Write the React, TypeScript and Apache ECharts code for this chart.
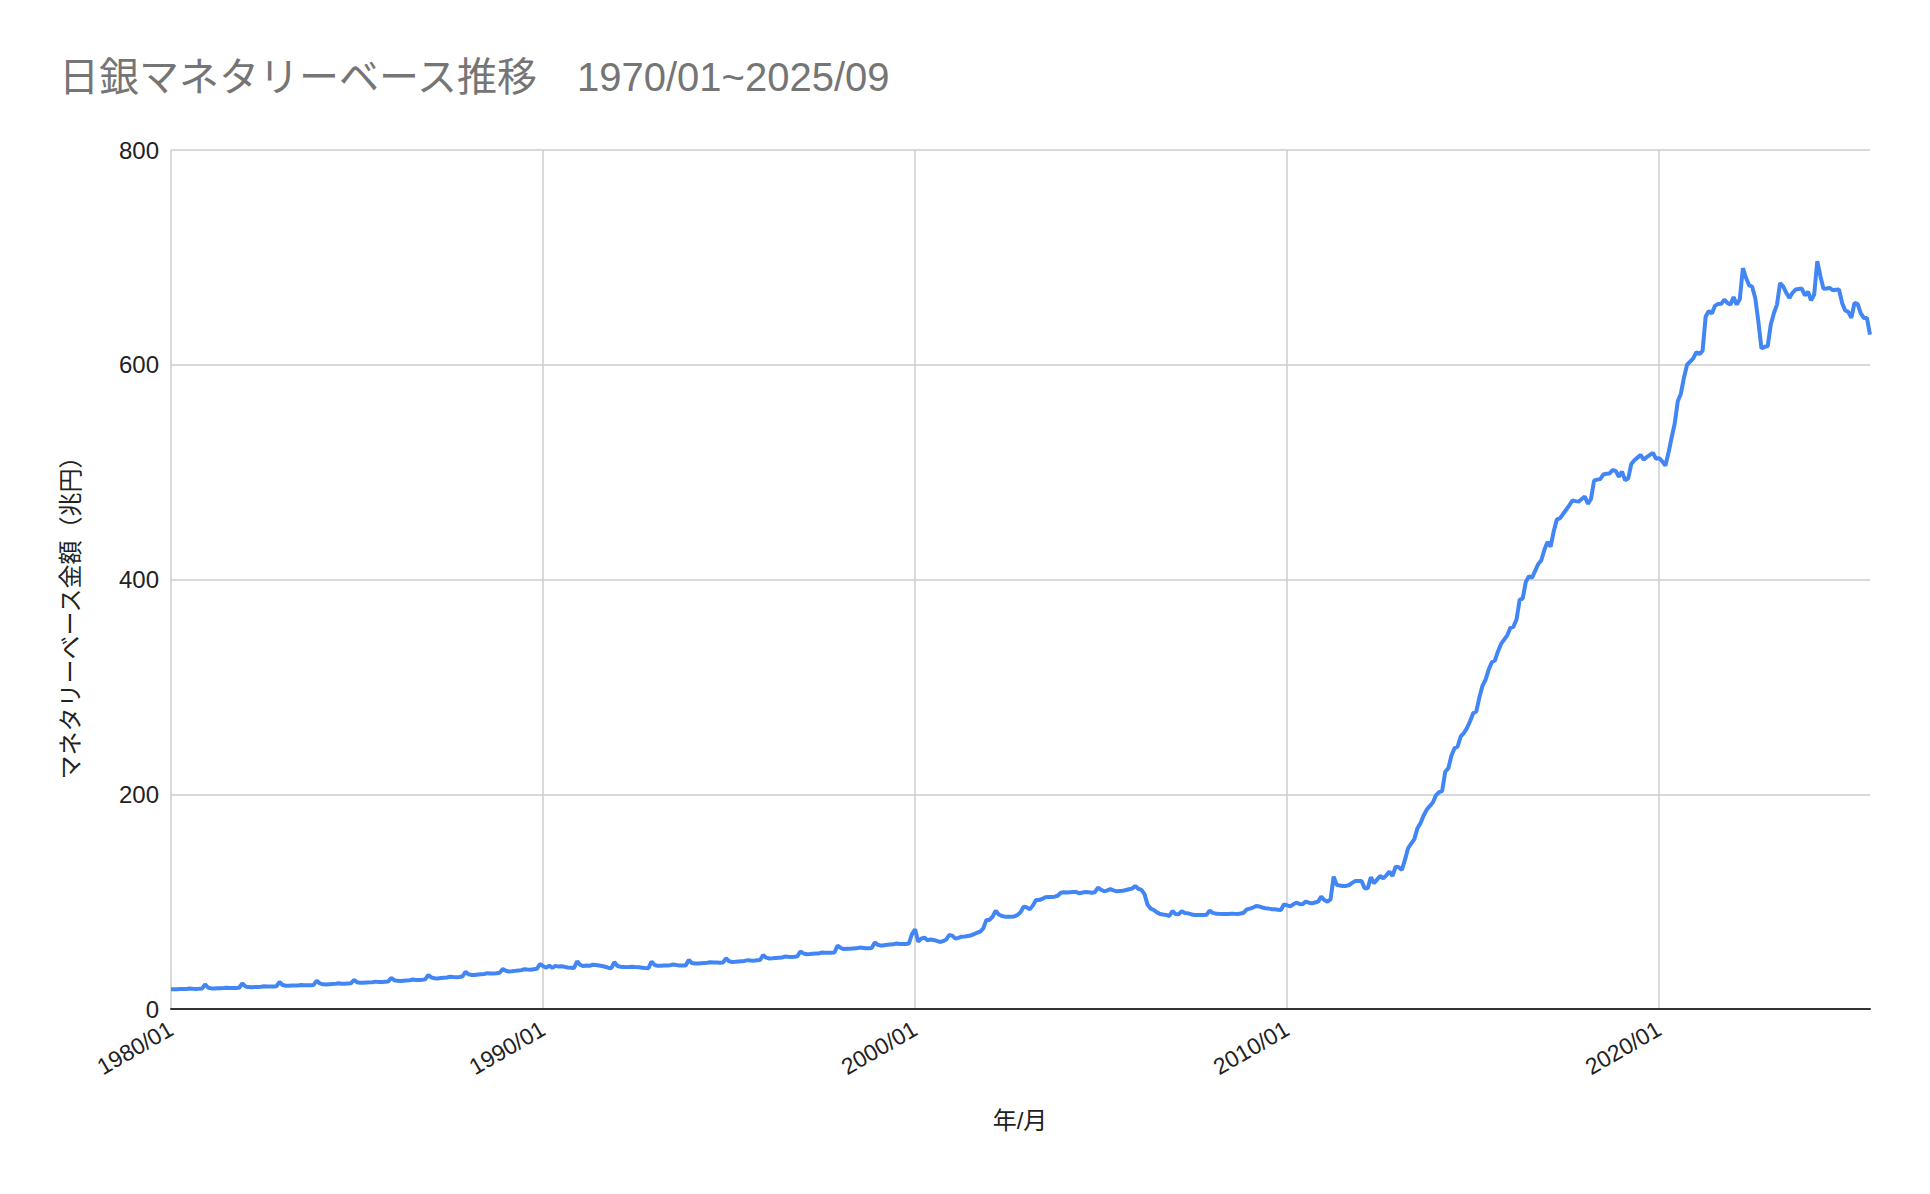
import React, { useEffect, useRef } from "react";
import * as echarts from "echarts";

const chartTitle = "日銀マネタリーベース推移　1970/01~2025/09";
const xAxisTitle = "年/月";
const yAxisTitle = "マネタリーベース金額（兆円）";
const startYear = 1980;

// 兆円, monthly 1980/01 ~ 1989/12
const values1980s = [
  18.3, 18.3, 18.4, 18.6, 18.6, 18.7, 19.0, 18.8, 18.7, 18.8, 19.0, 23.0,
  19.8, 19.2, 19.1, 19.3, 19.4, 19.5, 19.8, 19.6, 19.5, 19.6, 19.8, 23.9,
  21.0, 20.4, 20.3, 20.5, 20.6, 20.8, 21.1, 21.0, 20.9, 21.0, 21.2, 25.1,
  22.3, 21.7, 21.6, 21.8, 21.9, 22.0, 22.4, 22.2, 22.1, 22.2, 22.4, 26.4,
  23.8, 23.0, 22.9, 23.1, 23.3, 23.4, 23.9, 23.6, 23.5, 23.7, 23.9, 27.0,
  25.0, 24.5, 24.4, 24.6, 24.8, 25.0, 25.5, 25.2, 25.1, 25.3, 25.5, 28.9,
  26.8, 26.2, 26.1, 26.4, 26.6, 26.8, 27.4, 27.1, 27.0, 27.2, 27.6, 31.7,
  29.3, 28.6, 28.5, 28.9, 29.1, 29.3, 30.0, 29.7, 29.6, 29.9, 30.3, 34.5,
  32.3, 31.7, 31.7, 32.1, 32.4, 32.6, 33.4, 33.1, 33.0, 33.3, 33.7, 37.2,
  35.6, 35.0, 35.1, 35.5, 35.9, 36.2, 37.0, 36.7, 36.6, 37.0, 37.4, 41.9,
];

// 1990/01 ~ 1999/12
const values1990s = [
  40.0, 38.5, 40.3, 38.3, 40.2, 39.5, 39.8, 39.2, 38.6, 38.4, 38.2, 44.5,
  41.0, 40.0, 40.5, 40.2, 41.2, 41.0, 40.5, 40.0, 39.3, 38.5, 38.0, 43.7,
  40.0, 39.3, 39.2, 39.0, 39.2, 39.4, 39.0, 38.8, 38.5, 38.2, 38.0, 44.2,
  41.0, 40.2, 40.3, 40.5, 40.6, 40.8, 41.5, 41.0, 40.6, 40.5, 40.6, 45.6,
  42.8, 42.3, 42.4, 42.6, 42.8, 43.0, 43.6, 43.4, 43.2, 43.0, 43.2, 47.2,
  44.5, 43.8, 43.9, 44.2, 44.5, 44.8, 45.5, 45.2, 45.0, 45.3, 45.6, 50.2,
  47.8, 47.0, 47.2, 47.5, 47.8, 48.0, 48.8, 48.6, 48.5, 48.7, 49.0, 53.6,
  51.8, 51.0, 51.2, 51.5, 51.7, 51.8, 52.6, 52.4, 52.3, 52.4, 52.6, 59.0,
  57.0, 55.8, 56.0, 56.2, 56.4, 56.5, 57.2, 57.0, 56.6, 56.5, 56.9, 62.0,
  59.8, 59.0, 59.4, 59.8, 60.0, 60.2, 61.0, 60.6, 60.5, 60.5, 61.0, 69.8,
];

// 2000/01 ~ 2009/12
const values2000s = [
  74.2, 62.7, 65.5, 66.5, 64.0, 64.8, 64.3, 63.5, 62.4, 63.2, 64.5, 68.9,
  68.3, 65.5, 66.2, 67.3, 67.5, 68.0, 68.5, 69.8, 71.0, 72.0, 75.1, 83.0,
  82.9, 86.0, 91.5, 88.0, 86.6, 86.0, 86.0, 86.0, 86.2, 87.5, 90.0, 95.3,
  94.7, 92.8, 96.5, 101.5, 101.5, 102.5, 104.0, 104.2, 104.4, 104.6, 105.5, 108.3,
  108.8, 108.6, 108.8, 109.0, 109.0, 107.7, 108.5, 109.0, 108.8, 108.3, 108.8, 113.0,
  111.0, 109.6, 110.5, 111.7, 110.5, 109.6, 110.0, 110.2, 110.8, 111.5, 112.1, 114.6,
  112.0, 111.0, 107.0, 97.0, 93.5, 92.2, 90.0, 88.5, 88.0, 87.6, 86.6, 91.3,
  88.5, 88.3, 91.0, 89.5, 89.1, 88.3, 87.6, 87.6, 87.6, 87.5, 87.8, 91.6,
  89.5, 88.8, 88.6, 88.5, 88.4, 88.5, 88.8, 88.6, 88.5, 89.0, 89.7, 92.8,
  93.5, 94.5, 96.0, 95.5, 94.5, 93.8, 93.5, 93.0, 92.8, 92.5, 92.2, 97.5,
];

// 2010/01 ~ 2019/12
const values2010s = [
  96.5, 95.5, 97.5, 99.0, 97.8, 97.5, 100.0, 99.0, 98.4, 99.2, 100.0, 104.6,
  101.5, 100.0, 102.0, 123.3, 115.6, 115.0, 114.6, 114.6, 115.5, 117.5, 119.3, 119.3,
  119.3, 112.4, 112.4, 122.7, 117.1, 120.5, 123.9, 121.7, 124.5, 127.9, 123.9, 132.6,
  132.0, 129.5, 138.8, 149.7, 154.0, 158.0, 168.0, 173.0, 180.0, 185.5, 189.0, 192.3,
  199.0, 202.0, 203.0, 221.0, 224.3, 236.0, 242.9, 244.5, 254.0, 257.0, 261.6, 268.0,
  275.5, 277.1, 290.0, 301.0, 306.6, 316.0, 323.0, 324.5, 333.0, 340.0, 344.0, 348.0,
  355.0, 356.0, 363.0, 381.0, 382.4, 398.0, 403.0, 401.6, 408.0, 414.4, 418.0, 428.0,
  435.0, 430.6, 445.0, 456.0, 457.0, 461.0, 465.0, 469.0, 473.6, 473.0, 472.5, 475.0,
  477.3, 470.5, 475.0, 492.0, 493.0, 493.5, 497.8, 498.5, 498.8, 502.0, 501.0, 495.7,
  500.5, 492.5, 494.0, 507.5, 511.0, 513.5, 516.0, 511.5, 514.0, 516.0, 518.0, 512.4,
];

// 2020/01 ~ 2025/09
const values2020s = [
  513.0, 510.0, 506.0, 518.0, 532.0, 545.0, 566.0, 573.0, 588.0, 600.0, 603.0, 606.0,
  611.7, 610.0, 613.0, 645.0, 650.0, 647.7, 655.0, 656.5, 656.7, 660.7, 657.6, 656.0,
  663.0, 656.0, 661.0, 690.0, 681.0, 674.0, 672.6, 662.0, 640.0, 615.0, 616.7, 617.3,
  637.5, 648.0, 656.0, 676.0, 673.0, 667.0, 662.3, 667.0, 670.0, 670.5, 671.0, 664.5,
  668.0, 660.0, 665.4, 696.5, 682.5, 670.7, 671.0, 671.6, 669.4, 669.8, 670.1, 657.6,
  650.5, 649.2, 643.6, 657.6, 656.7, 648.0, 643.6, 643.6, 628.0,
];

const monetaryBase = [
  ...values1980s,
  ...values1990s,
  ...values2000s,
  ...values2010s,
  ...values2020s,
];

const monthLabels = monetaryBase.map((_, i) => {
  const y = startYear + Math.floor(i / 12);
  const m = (i % 12) + 1;
  return `${y}/${m < 10 ? "0" + m : m}`;
});

const FONT = "'Liberation Sans', Arial, 'Noto Sans CJK JP', sans-serif";

export default function App() {
  const ref = useRef<HTMLDivElement>(null);

  useEffect(() => {
    document.body.style.margin = "0";
    const chart = echarts.init(ref.current as HTMLDivElement, undefined, {
      renderer: "svg",
    });
    chart.setOption({
      animation: false,
      backgroundColor: "#ffffff",
      textStyle: { fontFamily: FONT },
      title: {
        text: chartTitle,
        left: 54,
        top: 52,
        textStyle: {
          fontFamily: FONT,
          fontSize: 40,
          fontWeight: "normal",
          color: "#757575",
        },
      },
      grid: { left: 171, right: 60, top: 150, bottom: 185, containLabel: false },
      xAxis: {
        type: "category",
        data: monthLabels,
        boundaryGap: false,
        axisLine: { show: true, lineStyle: { color: "#333333", width: 2 } },
        axisTick: { show: false },
        axisLabel: {
          interval: 119,
          rotate: 30,
          fontSize: 23,
          color: "#222222",
          margin: 18,
          fontFamily: FONT,
        },
        splitLine: {
          show: true,
          interval: 119,
          lineStyle: { color: "#cccccc", width: 1.5 },
        },
      },
      yAxis: {
        type: "value",
        min: 0,
        max: 800,
        interval: 200,
        axisLine: { show: false },
        axisTick: { show: false },
        axisLabel: {
          fontSize: 24,
          color: "#222222",
          margin: 12,
          fontFamily: FONT,
        },
        splitLine: { lineStyle: { color: "#cccccc", width: 1.5 } },
      },
      series: [
        {
          type: "line",
          data: monetaryBase,
          showSymbol: false,
          symbol: "none",
          lineStyle: { color: "#4285F4", width: 4 },
          itemStyle: { color: "#4285F4" },
        },
      ],
      graphic: [
        {
          type: "text",
          x: 1020,
          y: 1120,
          style: {
            text: xAxisTitle,
            fontSize: 24,
            fontFamily: FONT,
            fill: "#222222",
            textAlign: "center",
            textVerticalAlign: "middle",
          },
        },
        {
          type: "text",
          x: 70,
          y: 612,
          rotation: Math.PI / 2,
          style: {
            text: yAxisTitle,
            fontSize: 24,
            fontFamily: FONT,
            fill: "#222222",
            textAlign: "center",
            textVerticalAlign: "middle",
          },
        },
      ],
    });
    return () => chart.dispose();
  }, []);

  return (
    <div
      ref={ref}
      style={{ position: "absolute", left: 0, top: 0, width: 1930, height: 1194 }}
    />
  );
}
